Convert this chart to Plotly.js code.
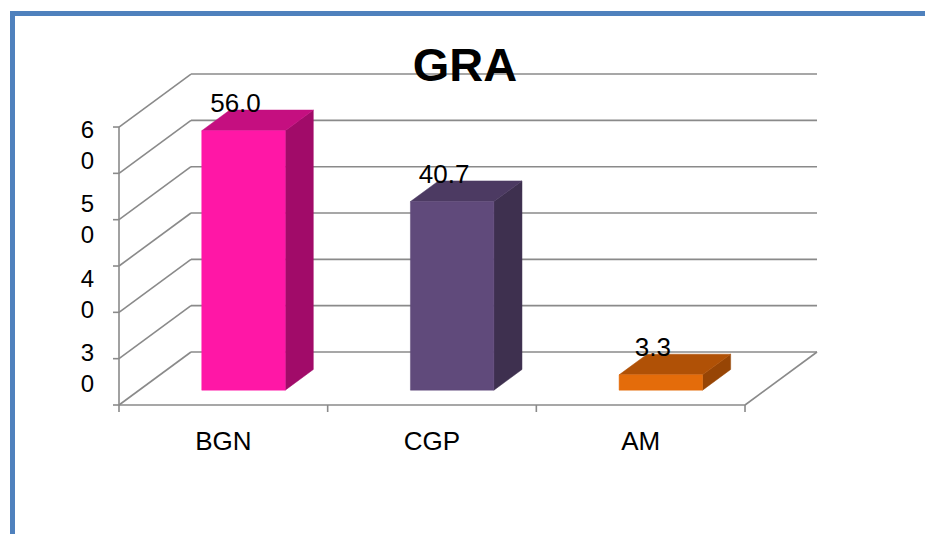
<!DOCTYPE html>
<html>
<head>
<meta charset="utf-8">
<script src="https://cdn.plot.ly/plotly-3.0.1.min.js"></script>
<style>
  html, body { margin:0; padding:0; background:#fff; }
  #wrap { position:relative; width:925px; height:534px; overflow:hidden; }
  #chart { position:absolute; left:0; top:0; width:925px; height:534px; }
  #frame { position:absolute; left:10px; top:11px; width:925px; height:540px;
           border-top:5px solid #4F81BD; border-left:5px solid #4F81BD; pointer-events:none; }
</style>
</head>
<body>
<div id="wrap">
  <div id="chart"></div>
  <div id="frame"></div>
</div>
<script>
// ---- data ----
const categories = ['BGN', 'CGP', 'AM'];
const values = [56.0, 40.7, 3.3];
const frontColors = ['#FF17A6', '#604A7B', '#E46C0A'];
const topColors   = ['#C50F80', '#4C3A62', '#B05106'];
const sideColors  = ['#A10B69', '#3E304F', '#974505'];
const gridValues = [0, 10, 20, 30, 40, 50, 60];
const yLabelValues = [60, 50, 40, 30];
const yLabelText = yLabelValues.map(v => String(v).split('').join('<br>'));

// ---- projection (oblique 3D look) ----
const PX_X = 208.67;          // px per category unit
const PX_Y = 4.633;           // px per value unit
const DX = 72 / PX_X;         // full depth offset in category units
const DY = 53 / PX_Y;         // full depth offset in value units
const F0 = 0.28, F1 = 0.67;   // bar front/back depth fractions
const W = 0.4;                // bar width
const X0 = -0.5, X1 = categories.length - 0.5;

const traces = [];
function seg(xs, ys, arr) { arr.x.push(...xs, null); arr.y.push(...ys, null); }

// wall / floor lines
const grid = {x: [], y: []};
gridValues.forEach(v => {
  seg([X0 + DX, X1 + DX], [v + DY, v + DY], grid);       // back wall
  seg([X0, X0 + DX], [v, v + DY], grid);                 // left wall
  seg([X0 - 6 / PX_X, X0], [v, v], grid);                // y tick marks
});
seg([X0, X1], [0, 0], grid);                              // floor front
seg([X1, X1 + DX], [0, DY], grid);                        // floor right
seg([X0, X0], [0, gridValues[gridValues.length - 1]], grid); // front axis
for (let i = 0; i <= categories.length; i++) {
  seg([X0 + i, X0 + i], [0, -7 / PX_Y], grid);           // x tick marks
}
traces.push({type: 'scatter', mode: 'lines', x: grid.x, y: grid.y,
  line: {color: '#8A8A8A', width: 1.6}, hoverinfo: 'skip', cliponaxis: false});

// bars
values.forEach((v, i) => {
  const l0 = i - W / 2 + F0 * DX, r0 = i + W / 2 + F0 * DX;
  const l1 = i - W / 2 + F1 * DX, r1 = i + W / 2 + F1 * DX;
  const b0 = F0 * DY, b1 = F1 * DY;
  const face = (xs, ys, c) => traces.push({type: 'scatter', mode: 'lines', fill: 'toself',
    x: xs, y: ys, fillcolor: c, line: {color: c, width: 0.5}, hoverinfo: 'skip'});
  face([r0, r1, r1, r0, r0], [b0, b1, v + b1, v + b0, b0], sideColors[i]);
  face([l0, r0, r1, l1, l0], [v + b0, v + b0, v + b1, v + b1, v + b0], topColors[i]);
  face([l0, r0, r0, l0, l0], [b0, b0, v + b0, v + b0, b0], frontColors[i]);
});

// data labels
traces.push({type: 'scatter', mode: 'text',
  x: values.map((v, i) => i + F0 * DX - 8 / PX_X),
  y: values.map(v => v + F0 * DY + 25 / PX_Y),
  text: values.map(v => v.toFixed(1)),
  textposition: 'middle center',
  textfont: {family: 'Liberation Sans, Arial, sans-serif', size: 26, color: '#000'},
  cliponaxis: false, hoverinfo: 'skip'});

// plot area: px 100..830 horizontally, 60..420 vertically
const L = 100, R = 830, T = 60, B = 420;
const FRONT_LEFT_PX = 119, FLOOR_PX = 405;
const xRange = [X0 + (L - FRONT_LEFT_PX) / PX_X, X0 + (R - FRONT_LEFT_PX) / PX_X];
const yRange = [(FLOOR_PX - B) / PX_Y, (FLOOR_PX - T) / PX_Y];
// label axis: 10 units = 74.5 px, label "60" centred at px 145
const LBL_PX = 7.45, LBL_TOP_VAL = 60, LBL_TOP_PX = 145;
const y2Range = [LBL_TOP_VAL - (B - LBL_TOP_PX) / LBL_PX, LBL_TOP_VAL + (LBL_TOP_PX - T) / LBL_PX];

const font = 'Liberation Sans, Arial, sans-serif';
const layout = {
  width: 925, height: 534,
  margin: {l: L, r: 925 - R, t: T, b: 534 - B},
  paper_bgcolor: 'rgba(0,0,0,0)', plot_bgcolor: 'rgba(0,0,0,0)',
  showlegend: false,
  title: {text: '<b>GRA</b>', font: {family: font, size: 47, color: '#000'},
    x: 465 / 925, xanchor: 'center', xref: 'container',
    y: 1 - 65 / 534, yanchor: 'middle', yref: 'container'},
  xaxis: {range: xRange, tickvals: categories.map((c, i) => i), ticktext: categories,
    tickfont: {family: font, size: 26, color: '#000'}, ticks: '', ticklabelstandoff: 3,
    showgrid: false, zeroline: false, showline: false, fixedrange: true},
  yaxis: {range: yRange, showticklabels: false, ticks: '', showgrid: false,
    zeroline: false, showline: false, fixedrange: true},
  yaxis2: {range: y2Range, overlaying: 'y', side: 'left', anchor: 'x',
    tickvals: yLabelValues, ticktext: yLabelText, ticks: '', ticklabelstandoff: 5,
    tickfont: {family: font, size: 24, color: '#000'},
    showgrid: false, zeroline: false, showline: false, fixedrange: true}
};
// dummy trace to activate yaxis2
traces.push({type: 'scatter', x: [null], y: [null], yaxis: 'y2', hoverinfo: 'skip'});

Plotly.newPlot('chart', traces, layout, {displayModeBar: false, staticPlot: true});
</script>
</body>
</html>
